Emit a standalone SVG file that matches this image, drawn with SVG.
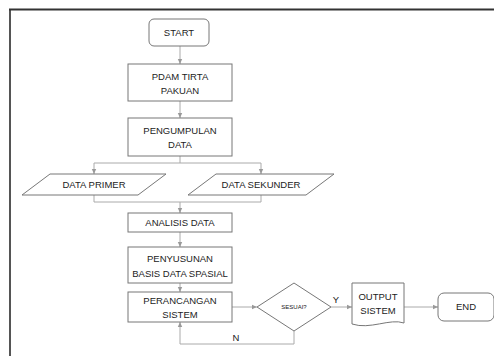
<svg xmlns="http://www.w3.org/2000/svg" width="494" height="356" viewBox="0 0 494 356">
<defs>
<marker id="ah" markerWidth="6" markerHeight="6" refX="5" refY="3" orient="auto" markerUnits="userSpaceOnUse">
<path d="M0,0.8 L5,3 L0,5.2 z" fill="#999"/>
</marker>
<style>
.n{fill:#fff;stroke:#777;stroke-width:1}
.t{font-family:"Liberation Sans",Arial,sans-serif;font-size:9.5px;fill:#222;text-anchor:middle}
.c{fill:none;stroke:#aaa;stroke-width:1}
.a{marker-end:url(#ah)}
</style>
</defs>
<rect width="494" height="356" fill="#fff"/>
<line x1="10" y1="9" x2="10" y2="356" stroke="#555" stroke-width="2"/>
<line x1="9" y1="9.5" x2="494" y2="9.5" stroke="#333" stroke-width="2"/>
<g id="connectors">
<line class="c a" x1="180" y1="46" x2="180" y2="64"/>
<line class="c a" x1="180" y1="101" x2="180" y2="118"/>
<polyline class="c" points="180,156 180,163"/>
<polyline class="c a" points="180,163 94,163 94,174"/>
<polyline class="c a" points="180,163 261,163 261,174"/>
<polyline class="c" points="94,195 94,202 261,202 261,195"/>
<line class="c a" x1="180" y1="202" x2="180" y2="213"/>
<line class="c a" x1="180" y1="232" x2="180" y2="247"/>
<line class="c a" x1="180" y1="283" x2="180" y2="292"/>
<line class="c a" x1="232" y1="307" x2="257" y2="307"/>
<line class="c a" x1="331" y1="307" x2="352" y2="307"/>
<line class="c a" x1="404" y1="307" x2="438" y2="307"/>
<polyline class="c a" points="294,331 294,344 180,344 180,322"/>
<text class="t" x="336" y="303">Y</text>
<text class="t" x="236" y="341">N</text>
</g>
<g id="start">
<rect class="n" x="149" y="19" width="60" height="27" rx="5"/>
<text class="t" x="179" y="36">START</text>
</g>
<g id="pdam">
<rect class="n" x="128" y="64" width="104" height="37"/>
<text class="t" x="180" y="80">PDAM TIRTA</text>
<text class="t" x="180" y="94">PAKUAN</text>
</g>
<g id="pengumpulan">
<rect class="n" x="128" y="118" width="104" height="38"/>
<text class="t" x="180" y="134">PENGUMPULAN</text>
<text class="t" x="180" y="148">DATA</text>
</g>
<g id="primer">
<polygon class="n" points="50,174 166,174 138,195 22,195"/>
<text class="t" x="94" y="188">DATA PRIMER</text>
</g>
<g id="sekunder">
<polygon class="n" points="216,174 334,174 306,195 188,195"/>
<text class="t" x="261" y="188">DATA SEKUNDER</text>
</g>
<g id="analisis">
<rect class="n" x="128" y="213" width="104" height="19"/>
<text class="t" x="180" y="226">ANALISIS DATA</text>
</g>
<g id="penyusunan">
<rect class="n" x="128" y="247" width="104" height="36"/>
<text class="t" x="180" y="262">PENYUSUNAN</text>
<text class="t" x="180" y="277">BASIS DATA SPASIAL</text>
</g>
<g id="perancangan">
<rect class="n" x="128" y="292" width="104" height="30"/>
<text class="t" x="180" y="304">PERANCANGAN</text>
<text class="t" x="180" y="318">SISTEM</text>
</g>
<g id="sesuai">
<polygon class="n" points="294,283 331,307 294,331 257,307"/>
<text class="t" x="294" y="309" style="font-size:6px">SESUAI?</text>
</g>
<g id="output">
<path class="n" d="M352,283 H404 V323 C390,318 370,330 352,324 Z"/>
<text class="t" x="378" y="300">OUTPUT</text>
<text class="t" x="378" y="314">SISTEM</text>
</g>
<g id="end">
<rect class="n" x="438" y="293" width="56" height="28" rx="6"/>
<text class="t" x="466" y="310">END</text>
</g>
</svg>
